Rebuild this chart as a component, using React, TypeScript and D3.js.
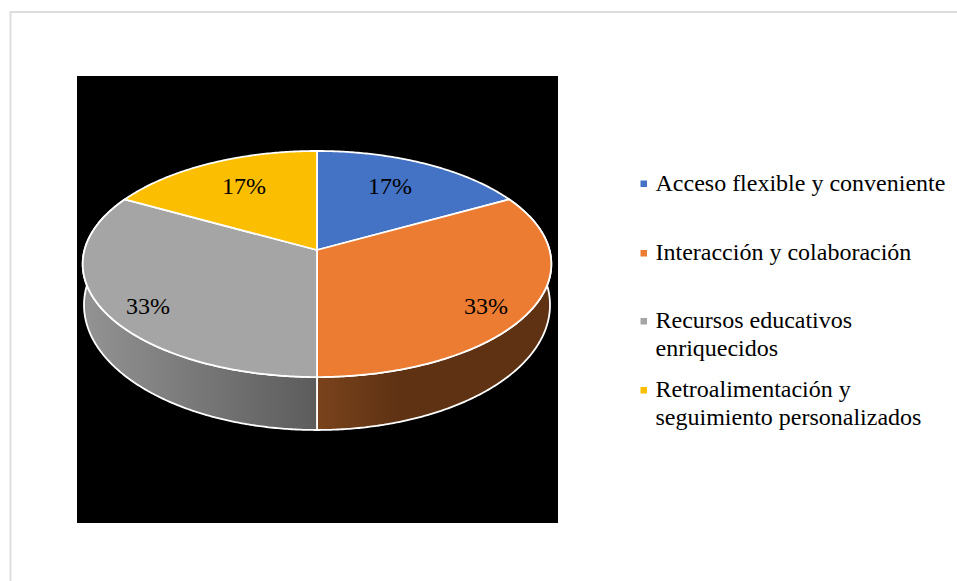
import React from "react";
import * as d3 from "d3";

const categories = [
  "Acceso flexible y conveniente",
  "Interacción y colaboración",
  "Recursos educativos enriquecidos",
  "Retroalimentación y seguimiento personalizados",
];
const shares = [17, 33, 33, 17];
const sliceColors = ["#4472C4", "#EC7C31", "#A5A5A5", "#FCBE00"];
const legendLines = [
  ["Acceso flexible y conveniente"],
  ["Interacción y colaboración"],
  ["Recursos educativos", "enriquecidos"],
  ["Retroalimentación y", "seguimiento personalizados"],
];
const legendBaselines = [190.5, 260, 328, 397];
const labelAnchors = [
  [390, 193.5],
  [486, 314],
  [148, 314],
  [244, 193.5],
];
const wallStops = [
  [
    { offset: "0%", color: "#7A431C" },
    { offset: "35%", color: "#5E3213" },
    { offset: "100%", color: "#5E3213" },
  ],
  [
    { offset: "0%", color: "#939393" },
    { offset: "100%", color: "#5C5C5C" },
  ],
];

const W = 957;
const H = 581;
const serif = "'Liberation Serif', serif";

// Tilted disc: a circle seen in perspective, foreshortened by `k` from near to far.
const cx = 317;
const topDisc = { r: 232.5, cy: 250, a: 111.3, k: 0.124 };
const baseDisc = { r: 233, cy: 305, a: 125, k: 0 };

type Disc = typeof topDisc;
const project = (d: Disc, theta: number): [number, number] => {
  const w = 1 + d.k * Math.cos(theta);
  return [cx + (d.r * Math.sin(theta)) / w, d.cy - (d.a * Math.cos(theta)) / w];
};

const arcPoints = (d: Disc, a0: number, a1: number) => {
  const n = Math.max(2, Math.ceil(Math.abs(a1 - a0) / 0.01));
  return d3.range(n + 1).map((i) => project(d, a0 + ((a1 - a0) * i) / n));
};

const path = d3.line();

export default function App() {
  const slices = d3.pie<number>().sort(null).value((v) => v)(shares);
  const apex: [number, number] = [cx, topDisc.cy];
  // Only the slices facing the viewer show a side wall.
  const walls = slices.slice(1, 3);

  return (
    <svg
      width={W}
      height={H}
      viewBox={`0 0 ${W} ${H}`}
      style={{ position: "absolute", left: 0, top: 0, display: "block", background: "#fff" }}
    >
      <defs>
        {walls.map((s, i) => {
          const xs = arcPoints(topDisc, s.startAngle, s.endAngle).map((p) => p[0]);
          const [x0, x1] = i === 0 ? [cx, d3.max(xs)!] : [d3.min(xs)!, cx];
          return (
            <linearGradient
              key={i}
              id={`wall-${i}`}
              gradientUnits="userSpaceOnUse"
              x1={x0}
              x2={x1}
              y1={0}
              y2={0}
            >
              {wallStops[i].map((st) => (
                <stop key={st.offset} offset={st.offset} stopColor={st.color} />
              ))}
            </linearGradient>
          );
        })}
      </defs>

      {/* page frame */}
      <path d={`M${W + 2},12 H10.5 V${H + 2}`} fill="none" stroke="#DDDDDD" strokeWidth={2} />

      {/* plot background */}
      <rect x={77} y={76} width={481} height={447} fill="#000" />

      {/* side walls */}
      {walls.map((s, i) => {
        const front = arcPoints(topDisc, s.startAngle, s.endAngle);
        const back = arcPoints(baseDisc, s.endAngle, s.startAngle);
        return (
          <path
            key={i}
            d={path([...front, ...back])! + "Z"}
            fill={`url(#wall-${i})`}
            stroke="#fff"
            strokeWidth={1.8}
            strokeLinejoin="round"
          />
        );
      })}

      {/* top face */}
      {slices.map((s, i) => (
        <path
          key={i}
          d={path([apex, ...arcPoints(topDisc, s.startAngle, s.endAngle)])! + "Z"}
          fill={sliceColors[i]}
          stroke="#fff"
          strokeWidth={1.8}
          strokeLinejoin="round"
        />
      ))}

      {/* data labels */}
      {slices.map((s, i) => (
        <text
          key={i}
          x={labelAnchors[i][0]}
          y={labelAnchors[i][1]}
          textAnchor="middle"
          fontFamily={serif}
          fontSize={24}
          fill="#000"
        >
          {`${s.data}%`}
        </text>
      ))}

      {/* legend */}
      {categories.map((c, i) => (
        <g key={c}>
          <rect x={640.5} y={legendBaselines[i] - 10} width={6.5} height={6.5} fill={sliceColors[i]} />
          <text x={655.5} y={legendBaselines[i]} fontFamily={serif} fontSize={24} fill="#000">
            {legendLines[i].map((line, j) => (
              <tspan key={j} x={655.5} dy={j === 0 ? 0 : 28}>
                {line}
              </tspan>
            ))}
          </text>
        </g>
      ))}
    </svg>
  );
}
